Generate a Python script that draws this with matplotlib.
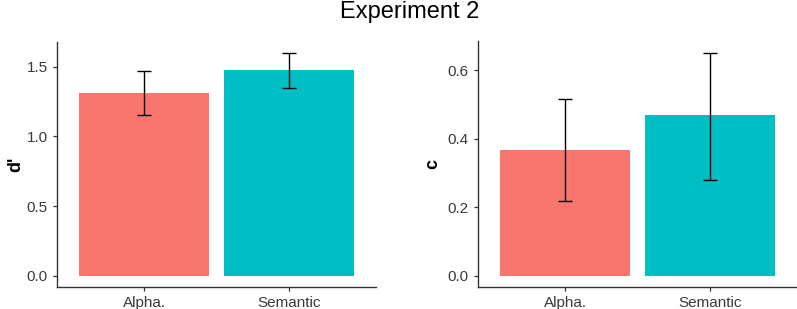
import matplotlib
matplotlib.use("Agg")
import matplotlib.pyplot as plt

categories = ["Alpha.", "Semantic"]
dprime = [1.314, 1.479]
dprime_lo = [1.155, 1.350]
dprime_hi = [1.470, 1.600]
crit = [0.368, 0.468]
crit_lo = [0.219, 0.281]
crit_hi = [0.517, 0.651]
colors = ["#F8766D", "#00BFC4"]

plt.rcParams['font.family'] = ['Liberation Sans', 'DejaVu Sans']

fig = plt.figure(figsize=(7.97, 3.09), dpi=100)
ax1 = fig.add_axes([0.0715, 0.0712, 0.4003, 0.7938])
ax2 = fig.add_axes([0.5997, 0.0712, 0.4003, 0.7960])

def panel(ax, vals, lo, hi, ylabel, ylim, ticks, fmt, labx):
    x = list(range(1, len(categories) + 1))
    ax.bar(x, vals, width=0.9, color=colors, zorder=1)
    yerr = [[v - l for v, l in zip(vals, lo)], [h - v for v, h in zip(vals, hi)]]
    ax.errorbar(x, vals, yerr=yerr, fmt='none', ecolor='black', elinewidth=1.0,
                capsize=5.3, capthick=1.0, zorder=2)
    ax.set_xlim(0.4, 2.6)
    ax.set_ylim(*ylim)
    ax.set_xticks(x)
    ax.set_xticklabels(categories)
    ax.set_yticks(ticks)
    ax.set_yticklabels([fmt.format(t) for t in ticks])
    for s in ['top', 'right']:
        ax.spines[s].set_visible(False)
    for s in ['left', 'bottom']:
        ax.spines[s].set_color('#333333')
        ax.spines[s].set_linewidth(1.0)
    ax.tick_params(axis='both', colors='#333333', labelcolor='#3a3a3a',
                   labelsize=11, length=3, width=0.9)
    ax.set_ylabel(ylabel, fontsize=13, fontweight='bold', va='center')
    ax.yaxis.set_label_coords(labx, 0.5)

panel(ax1, dprime, dprime_lo, dprime_hi, "d'", (-0.08, 1.68),
      [0.0, 0.5, 1.0, 1.5], "{:.1f}", -0.13)
panel(ax2, crit, crit_lo, crit_hi, "c", (-0.0326, 0.685),
      [0.0, 0.2, 0.4, 0.6], "{:.1f}", -0.143)

fig.text(0.514, 0.962, "Experiment 2", ha='center', va='center', fontsize=17)

fig.savefig("out.png", dpi=100)
